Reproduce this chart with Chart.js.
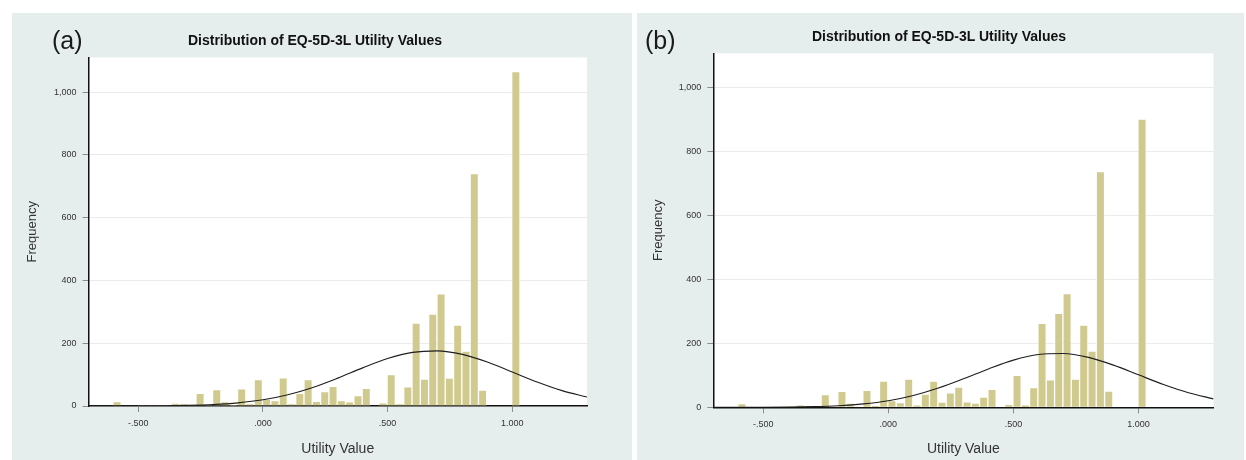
<!DOCTYPE html>
<html>
<head>
<meta charset="utf-8">
<title>Distribution of EQ-5D-3L Utility Values</title>
<script src="https://cdn.jsdelivr.net/npm/chart.js@4.4.1/dist/chart.umd.min.js"></script>
<style>
    body { margin: 0; background: #fff; width: 1246px; height: 460px; overflow: hidden;
           font-family: Arial, "Liberation Sans", sans-serif; }
    .panel { position: absolute; top: 13px; height: 447px; background: #e6eeed; }
    .panel canvas { position: absolute; left: 0; top: 0; }
    .tag { position: absolute; font-size: 25px; line-height: 28px; color: #1a1a1a; }
    .title { position: absolute; font-size: 14px; line-height: 16px; font-weight: bold; color: #111;
             white-space: nowrap; transform: translateX(-50%); }
</style>
</head>
<body>

<div class="panel" style="left:12px;width:620px;">
    <canvas id="chart-a" width="620" height="447"></canvas>
    <div class="tag" style="left:40px;top:13px;">(a)</div>
    <div class="title" style="left:303px;top:19px;">Distribution of EQ-5D-3L Utility Values</div>
</div>

<div class="panel" style="left:637px;width:607px;">
    <canvas id="chart-b" width="607" height="447"></canvas>
    <div class="tag" style="left:8px;top:13px;">(b)</div>
    <div class="title" style="left:302px;top:15px;">Distribution of EQ-5D-3L Utility Values</div>
</div>

<script>

// Data

var binCentres = [
    -0.5855, -0.5522, -0.5188, -0.4855, -0.4522, -0.4188, -0.3855, -0.3522, -0.3188, -0.2855,
    -0.2522, -0.2188, -0.1855, -0.1522, -0.1188, -0.0855, -0.0522, -0.0188, 0.0145, 0.0478,
    0.0812, 0.1145, 0.1478, 0.1812, 0.2145, 0.2478, 0.2812, 0.3145, 0.3478, 0.3812,
    0.4145, 0.4478, 0.4812, 0.5145, 0.5478, 0.5812, 0.6145, 0.6478, 0.6812, 0.7145,
    0.7478, 0.7812, 0.8145, 0.8478, 0.8812, 0.9145, 0.9478, 0.9812, 1.0145
];

var countsA = [
    14, 0, 0, 2, 1, 2, 1, 9, 7, 1,
    40, 2, 52, 14, 2, 55, 8, 84, 22, 17,
    90, 8, 40, 84, 15, 46, 63, 17, 13, 33,
    56, 0, 10, 100, 7, 61, 264, 86, 293, 357,
    89, 258, 175, 740, 51, 0, 0, 0, 1065
];

var countsB = [
    12, 0, 0, 1, 1, 1, 1, 8, 5, 1,
    40, 1, 50, 13, 1, 53, 5, 82, 21, 15,
    88, 8, 41, 82, 16, 45, 63, 17, 13, 32,
    56, 0, 9, 100, 7, 62, 263, 86, 294, 356,
    88, 257, 176, 738, 51, 0, 0, 0, 902
];

// normal curve
var curveX = [-0.7, -0.6, -0.5, -0.4, -0.3, -0.2, -0.1, 0, 0.1, 0.2, 0.3,
              0.4, 0.5, 0.6, 0.7, 0.8, 0.9, 1.0, 1.1, 1.2, 1.3];
var curveA = [0.02, 0.08, 0.24, 0.7, 1.9, 4.5, 9.9, 19.7, 35.8, 59.1, 88.8,
              121.4, 151, 170.7, 175.7, 164.4, 140, 108.4, 76.4, 48.9, 28.5];
var curveB = [0.03, 0.09, 0.28, 0.8, 2.1, 4.9, 10.6, 20.7, 37.0, 60.2, 89.1,
              120.2, 147.7, 165.2, 168.3, 156.2, 132, 101.6, 71.2, 45.5, 26.4];

var xTicks = [-0.5, 0, 0.5, 1];
var yTicks = [0, 200, 400, 600, 800, 1000];


// Methods

Chart.defaults.font.family = 'Arial, "Liberation Sans", sans-serif';

function formatX(v) {
    var s = Math.abs(v).toFixed(3);
    if (s.charAt(0) === '0') s = s.slice(1);
    return (v < 0 ? '-' : '') + s;
}

var plotBackground = {
    id: 'plotBackground',
    beforeDraw: function (chart) {
        var a = chart.chartArea, ctx = chart.ctx;
        ctx.save();
        ctx.fillStyle = '#ffffff';
        ctx.fillRect(a.left, a.top, a.right - a.left, a.bottom - a.top);
        ctx.restore();
    }
};

function init(id, counts, curve, box) {

    var bars = binCentres.map(function (x, i) { return { x: x, y: counts[i] }; });
    var line = curveX.map(function (x, i) { return { x: x, y: curve[i] }; });

    return new Chart(document.getElementById(id), {
        type: 'bar',
        data: {
            datasets: [{
                type: 'line',
                data: line,
                borderColor: '#1e1e1e',
                borderWidth: 1.1,
                pointRadius: 0,
                cubicInterpolationMode: 'monotone',
                order: 0
            }, {
                type: 'bar',
                data: bars,
                backgroundColor: '#d0ca8e',
                borderColor: 'rgba(255,255,255,0.45)',
                borderWidth: 1,
                barPercentage: 1,
                categoryPercentage: 1,
                order: 1
            }]
        },
        options: {
            responsive: false,
            animation: false,
            layout: {
                padding: { left: 0, top: box.top, right: box.width - box.right, bottom: 0 }
            },
            plugins: {
                legend: { display: false },
                tooltip: { enabled: false }
            },
            scales: {
                x: {
                    type: 'linear',
                    min: -0.7,
                    max: 1.3,
                    offset: false,
                    afterBuildTicks: function (s) {
                        s.ticks = xTicks.map(function (v) { return { value: v }; });
                    },
                    afterFit: function (s) { s.height = box.height - box.bottom; },
                    grid: { offset: false, drawOnChartArea: false, tickLength: 6, tickColor: '#8c8c8c' },
                    border: { display: true, color: '#111', width: 1.5 },
                    ticks: {
                        padding: 6, color: '#333', font: { size: 9 },
                        maxRotation: 0, autoSkip: false,
                        callback: function (v) { return formatX(v); }
                    },
                    title: {
                        display: true, text: 'Utility Value', color: '#333',
                        font: { size: 14 }, padding: { top: 0, bottom: 2.6 }
                    }
                },
                y: {
                    min: 0,
                    max: box.yMax,
                    afterBuildTicks: function (s) {
                        s.ticks = yTicks.map(function (v) { return { value: v }; });
                    },
                    afterFit: function (s) { s.width = box.left; },
                    grid: { color: '#ebebeb', lineWidth: 1, tickLength: 6, tickColor: '#8c8c8c' },
                    border: { display: true, color: '#111', width: 1.5 },
                    ticks: {
                        padding: 6, color: '#333', font: { size: 9 },
                        callback: function (v) { return v.toLocaleString('en-US'); }
                    },
                    title: {
                        display: true, text: 'Frequency', color: '#333',
                        font: { size: 13 }, padding: { top: box.yTitle, bottom: 0 }
                    }
                }
            }
        },
        plugins: [plotBackground]
    });
}


// Events

init('chart-a', countsA, curveA,
     { left: 76.5, top: 44.5, right: 575, bottom: 393, width: 620, height: 447, yMax: 1110, yTitle: 12.2 });
init('chart-b', countsB, curveB,
     { left: 76.3, top: 40.3, right: 576.5, bottom: 394.3, width: 607, height: 447, yMax: 1108, yTitle: 13.2 });

</script>
</body>
</html>
